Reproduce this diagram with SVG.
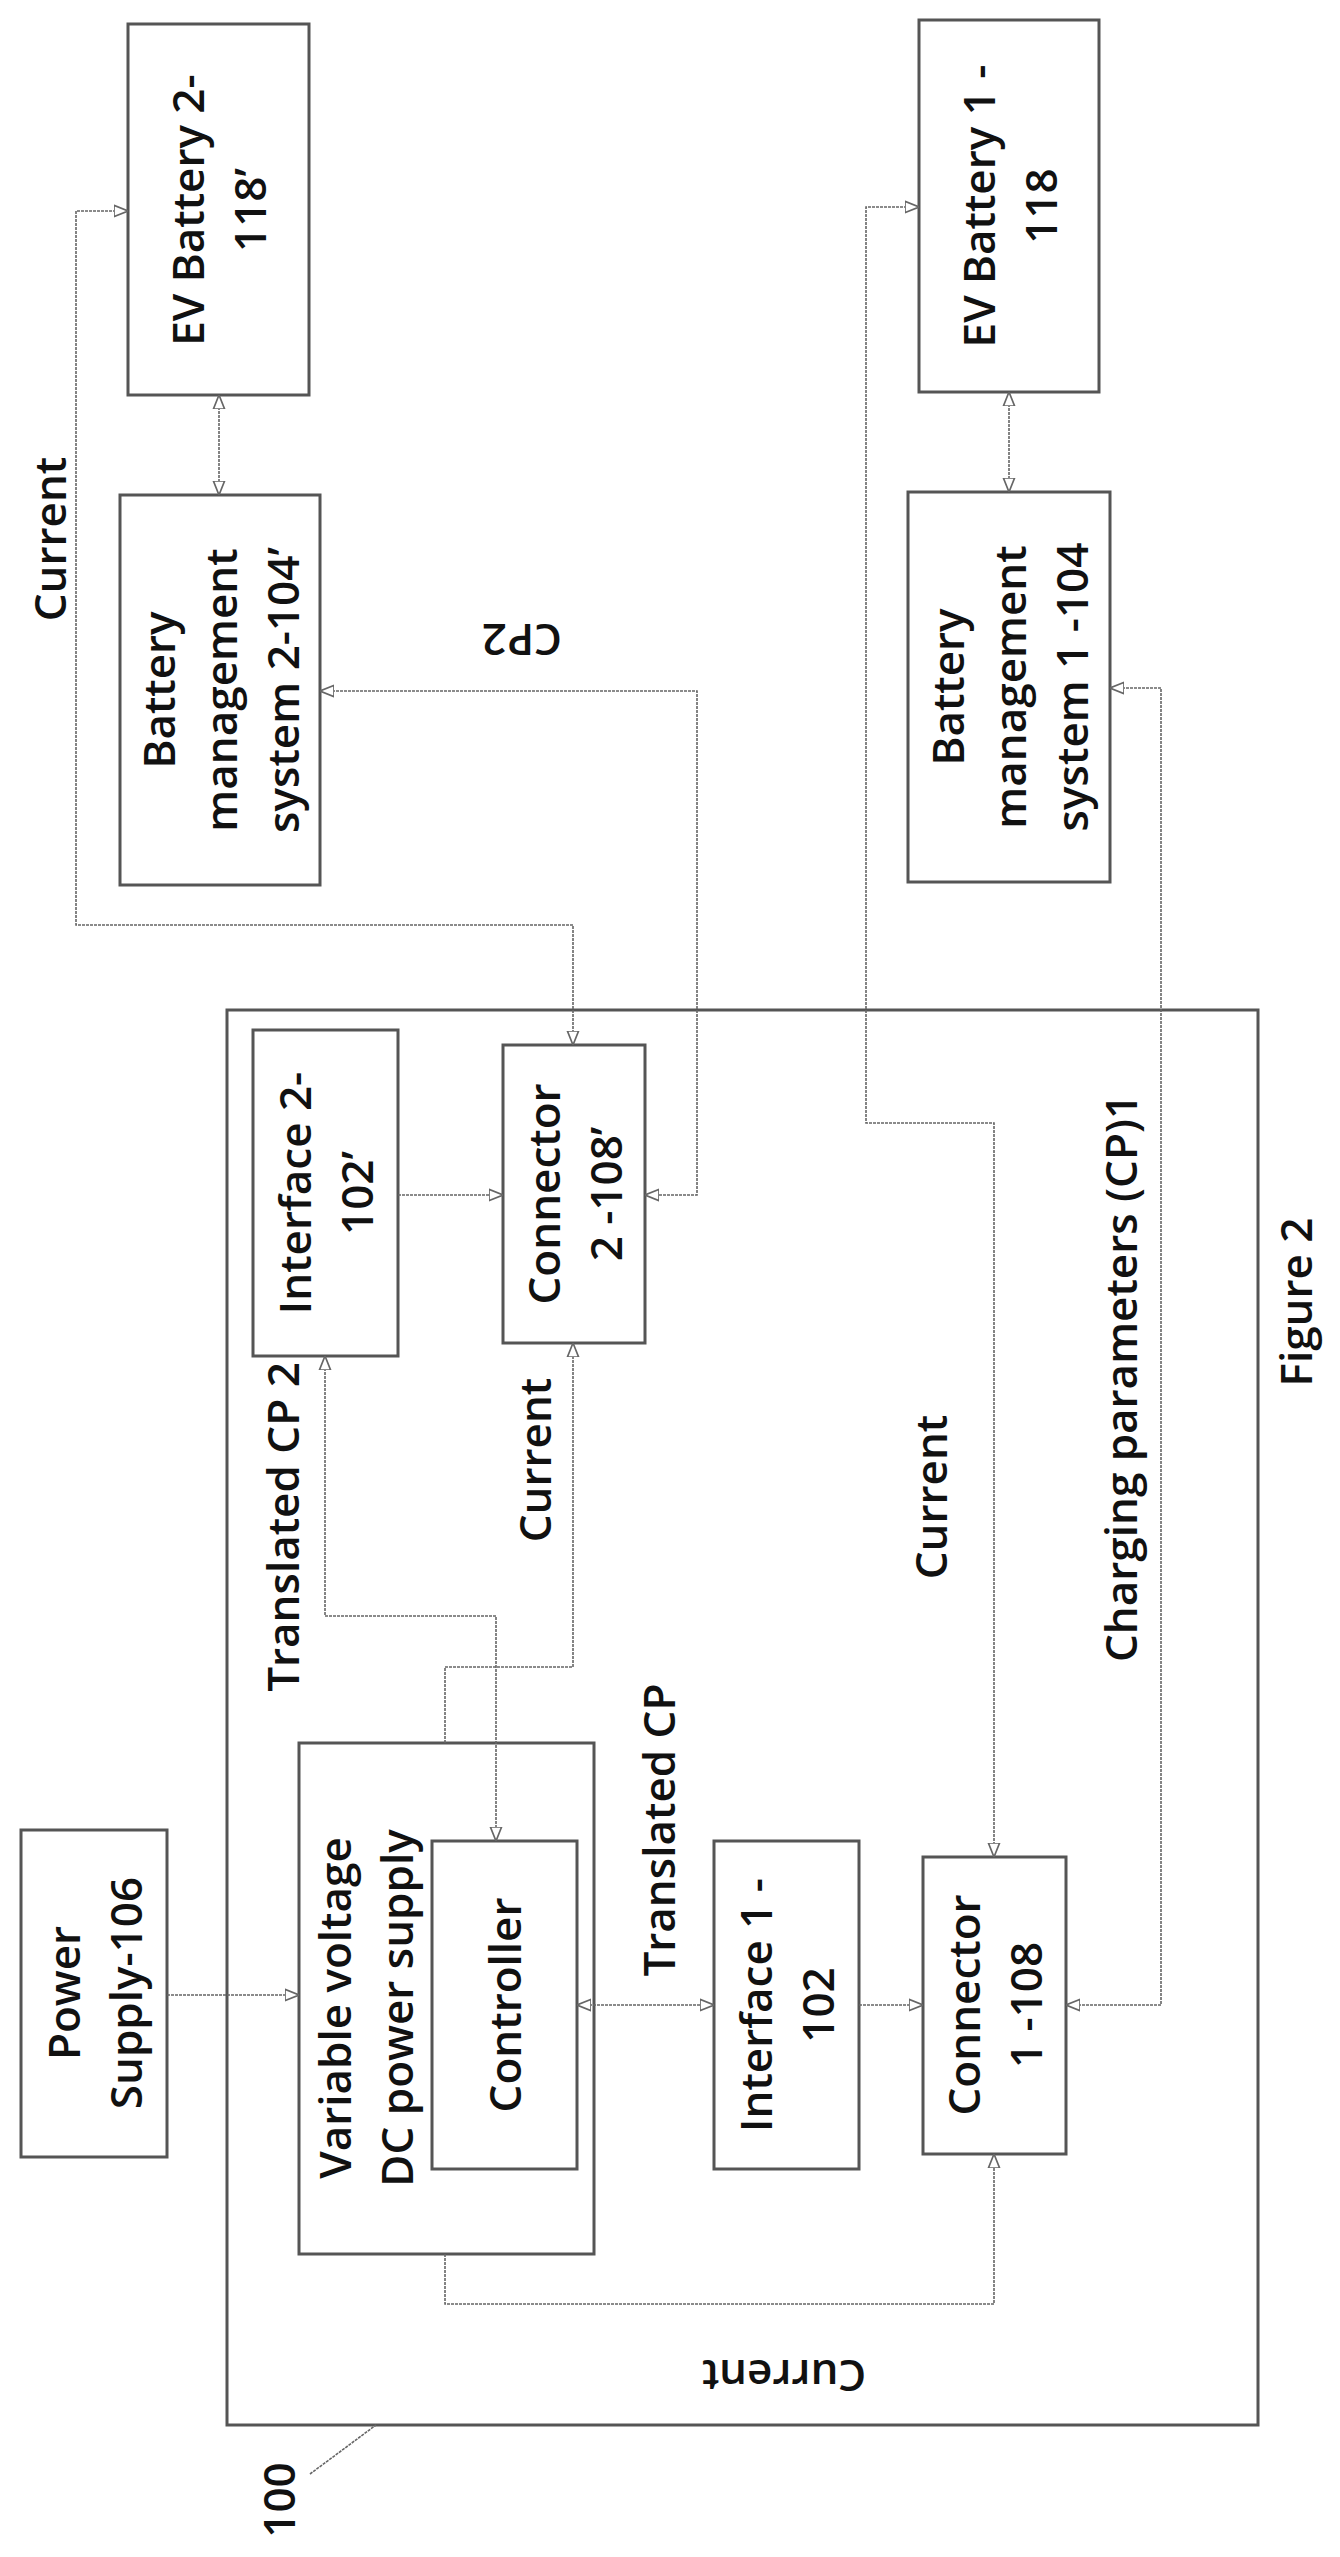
<svg xmlns="http://www.w3.org/2000/svg" width="1340" height="2557" viewBox="0 0 1340 2557">
<style>
.box{fill:#fff;stroke:#555;stroke-width:3}
.ln{fill:none;stroke:#666;stroke-width:1.6;stroke-dasharray:3 1}
text{font-family:"Open Sans","Liberation Sans",sans-serif;font-size:44px;font-weight:600;fill:#111;text-anchor:middle;dominant-baseline:central}
</style>
<defs>
<marker id="a" viewBox="0 0 10 10" refX="10" refY="5" markerWidth="14" markerHeight="14" markerUnits="userSpaceOnUse" orient="auto-start-reverse"><path d="M0,1 L10,5 L0,9 Z" fill="#fff" stroke="#666" stroke-width="1.2"/></marker>
</defs>
<rect width="1340" height="2557" fill="#fff"/>
<g id="system100"><rect class="box" x="227" y="1010" width="1031" height="1415"/></g>
<g id="ev2"><rect class="box" x="128" y="24" width="181" height="371"/><text transform="translate(218,210) rotate(-90)"><tspan x="0" dy="-31">EV Battery 2-</tspan><tspan x="0" dy="62">118’</tspan></text></g>
<g id="bms2"><rect class="box" x="120" y="495" width="200" height="390"/><text transform="translate(220,690) rotate(-90)"><tspan x="0" dy="-62">Battery</tspan><tspan x="0" dy="62">management</tspan><tspan x="0" dy="62">system 2-104’</tspan></text></g>
<g id="ev1"><rect class="box" x="919" y="20" width="180" height="372"/><text transform="translate(1009,206) rotate(-90)"><tspan x="0" dy="-31">EV Battery 1 -</tspan><tspan x="0" dy="62">118</tspan></text></g>
<g id="bms1"><rect class="box" x="908" y="492" width="202" height="390"/><text transform="translate(1009,687) rotate(-90)"><tspan x="0" dy="-62">Battery</tspan><tspan x="0" dy="62">management</tspan><tspan x="0" dy="62">system 1 -104</tspan></text></g>
<g id="interface2"><rect class="box" x="253" y="1030" width="145" height="326"/><text transform="translate(325,1193) rotate(-90)"><tspan x="0" dy="-31">Interface 2-</tspan><tspan x="0" dy="62">102’</tspan></text></g>
<g id="connector2"><rect class="box" x="503" y="1045" width="142" height="298"/><text transform="translate(574,1194) rotate(-90)"><tspan x="0" dy="-31">Connector</tspan><tspan x="0" dy="62">2 -108’</tspan></text></g>
<g id="power"><rect class="box" x="21" y="1830" width="146" height="327"/><text transform="translate(94,1993) rotate(-90)"><tspan x="0" dy="-31">Power</tspan><tspan x="0" dy="62">Supply-106</tspan></text></g>
<g id="vdc"><rect class="box" x="299" y="1743" width="295" height="511"/><text transform="translate(365,2008) rotate(-90)"><tspan x="0" dy="-31">Variable voltage</tspan><tspan x="0" dy="62">DC power supply</tspan></text></g>
<g id="controller"><rect class="box" x="432" y="1841" width="145" height="328"/><text transform="translate(504,2005) rotate(-90)">Controller</text></g>
<g id="interface1"><rect class="box" x="714" y="1841" width="145" height="328"/><text transform="translate(786,2005) rotate(-90)"><tspan x="0" dy="-31">Interface 1 -</tspan><tspan x="0" dy="62">102</tspan></text></g>
<g id="connector1"><rect class="box" x="923" y="1857" width="143" height="297"/><text transform="translate(994,2005) rotate(-90)"><tspan x="0" dy="-31">Connector</tspan><tspan x="0" dy="62">1 -108</tspan></text></g>
<g id="connectors">
<path class="ln" d="M219,395 V495" marker-start="url(#a)" marker-end="url(#a)"/>
<path class="ln" d="M1009,392 V492" marker-start="url(#a)" marker-end="url(#a)"/>
<path class="ln" d="M128,211 H76 V925 H573 V1045" marker-start="url(#a)" marker-end="url(#a)"/>
<path class="ln" d="M320,691 H697 V1195 H645" marker-start="url(#a)" marker-end="url(#a)"/>
<path class="ln" d="M919,207 H866 V1123 H994 V1857" marker-start="url(#a)" marker-end="url(#a)"/>
<path class="ln" d="M1110,688 H1161 V2005 H1066" marker-start="url(#a)" marker-end="url(#a)"/>
<path class="ln" d="M398,1195 H503" marker-end="url(#a)"/>
<path class="ln" d="M325,1356 V1616 H496 V1841" marker-start="url(#a)" marker-end="url(#a)"/>
<path class="ln" d="M445,1743 V1667 H573 V1343" marker-end="url(#a)"/>
<path class="ln" d="M167,1995 H299" marker-end="url(#a)"/>
<path class="ln" d="M577,2005 H714" marker-start="url(#a)" marker-end="url(#a)"/>
<path class="ln" d="M859,2005 H923" marker-end="url(#a)"/>
<path class="ln" d="M445,2254 V2304 H994 V2154" marker-end="url(#a)"/>
<path class="ln" d="M310,2474 L376,2425"/>
</g>
<g id="labels">
<text transform="translate(49,539) rotate(-90)">Current</text>
<text transform="translate(522,641) rotate(180)">CP2</text>
<text transform="translate(282,1527) rotate(-90)">Translated CP 2</text>
<text transform="translate(534,1460) rotate(-90)">Current</text>
<text transform="translate(930,1497) rotate(-90)">Current</text>
<text transform="translate(1120,1378) rotate(-90)">Charging parameters (CP)1</text>
<text transform="translate(1295,1302) rotate(-90)">Figure 2</text>
<text transform="translate(658,1830) rotate(-90)">Translated CP</text>
<text transform="translate(784,2377) rotate(180)">Current</text>
<text transform="translate(278,2500) rotate(-90)">100</text>
</g>
</svg>
